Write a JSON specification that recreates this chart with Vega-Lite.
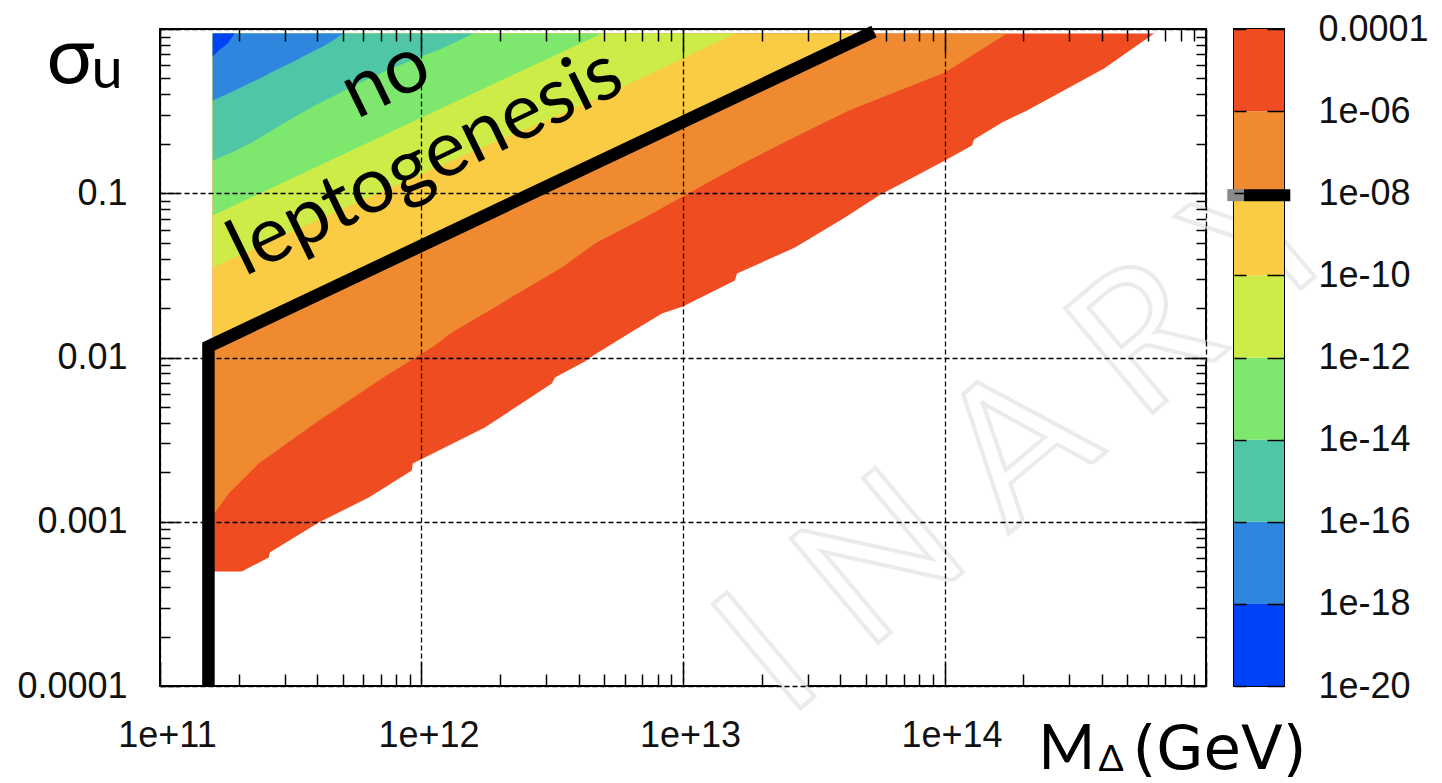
{
  "$schema": "https://vega.github.io/schema/vega-lite/v6.json",
  "background": "white",
  "padding": {"left": 15, "top": 5, "right": 0, "bottom": 0},
  "config": {
    "view": {"stroke": "#000000", "strokeWidth": 2},
    "axis": {
      "labelFont": "Liberation Sans", "labelFontSize": 36, "labelColor": "#111111",
      "titleFont": "Lato, Open Sans, sans-serif", "titleFontWeight": "normal", "titleColor": "#000000",
      "tickColor": "#000000", "tickWidth": 1.5, "domain": false,
      "labelFlush": false, "labelOverlap": false,
      "gridColor": "#000000", "gridDash": [5, 3], "gridWidth": 1.3
    }
  },
  "datasets": {
    "contour": [
      {"band": "b8", "m": 1.591e11, "s": 0.0004978}, {"band": "b8", "m": 2.054e11, "s": 0.0004978},
      {"band": "b8", "m": 2.605e11, "s": 0.0006058}, {"band": "b8", "m": 2.628e11, "s": 0.0006498},
      {"band": "b8", "m": 4.047e11, "s": 0.0009895}, {"band": "b8", "m": 6.287e11, "s": 0.001405},
      {"band": "b8", "m": 9.181e11, "s": 0.002051}, {"band": "b8", "m": 9.262e11, "s": 0.002263},
      {"band": "b8", "m": 1.747e12, "s": 0.003749}, {"band": "b8", "m": 3.151e12, "s": 0.006947},
      {"band": "b8", "m": 3.236e12, "s": 0.007556}, {"band": "b8", "m": 4.214e12, "s": 0.009455},
      {"band": "b8", "m": 4.603e12, "s": 0.01043}, {"band": "b8", "m": 6.211e12, "s": 0.014},
      {"band": "b8", "m": 8.306e12, "s": 0.01853}, {"band": "b8", "m": 9.991e12, "s": 0.02044},
      {"band": "b8", "m": 1.58e13, "s": 0.02943}, {"band": "b8", "m": 1.608e13, "s": 0.03246},
      {"band": "b8", "m": 2.68e13, "s": 0.04674}, {"band": "b8", "m": 4.163e13, "s": 0.07118},
      {"band": "b8", "m": 5.616e13, "s": 0.09689}, {"band": "b8", "m": 1.004e14, "s": 0.1582},
      {"band": "b8", "m": 1.274e14, "s": 0.1953}, {"band": "b8", "m": 1.297e14, "s": 0.2125},
      {"band": "b8", "m": 1.66e14, "s": 0.2696}, {"band": "b8", "m": 2.069e14, "s": 0.3191},
      {"band": "b8", "m": 4.076e14, "s": 0.5745}, {"band": "b8", "m": 6.331e14, "s": 0.9389},

      {"band": "b7", "m": 1.591e11, "s": 0.001092}, {"band": "b7", "m": 1.832e11, "s": 0.001486},
      {"band": "b7", "m": 2.386e11, "s": 0.002263}, {"band": "b7", "m": 3.907e11, "s": 0.003965},
      {"band": "b7", "m": 7.048e11, "s": 0.007451}, {"band": "b7", "m": 1.124e12, "s": 0.01183},
      {"band": "b7", "m": 1.306e12, "s": 0.0142}, {"band": "b7", "m": 3.441e12, "s": 0.03531},
      {"band": "b7", "m": 4.603e12, "s": 0.04943}, {"band": "b7", "m": 7.15e12, "s": 0.07118},
      {"band": "b7", "m": 9.991e12, "s": 0.09555}, {"band": "b7", "m": 1.636e13, "s": 0.1476},
      {"band": "b7", "m": 2.61e13, "s": 0.2154}, {"band": "b7", "m": 4.312e13, "s": 0.3191},
      {"band": "b7", "m": 1.004e14, "s": 0.5433}, {"band": "b7", "m": 1.734e14, "s": 0.9389},

      {"band": "b6", "m": 1.591e11, "s": 0.012}, {"band": "b6", "m": 5.178e13, "s": 0.9389},

      {"band": "b5", "m": 1.591e11, "s": 0.03531}, {"band": "b5", "m": 4.047e11, "s": 0.06921},
      {"band": "b5", "m": 1.504e12, "s": 0.1746}, {"band": "b5", "m": 4.895e12, "s": 0.3881},
      {"band": "b5", "m": 8.757e12, "s": 0.5995}, {"band": "b5", "m": 1.58e13, "s": 0.9389},

      {"band": "b4", "m": 1.591e11, "s": 0.0732}, {"band": "b4", "m": 8.785e11, "s": 0.2621},
      {"band": "b4", "m": 4.895e12, "s": 0.9389},

      {"band": "b3", "m": 1.591e11, "s": 0.1582}, {"band": "b3", "m": 1.881e11, "s": 0.1771},
      {"band": "b3", "m": 2.243e11, "s": 0.2037}, {"band": "b3", "m": 2.675e11, "s": 0.241},
      {"band": "b3", "m": 3.191e11, "s": 0.2851}, {"band": "b3", "m": 3.907e11, "s": 0.3421},
      {"band": "b3", "m": 4.827e11, "s": 0.4048}, {"band": "b3", "m": 6.069e11, "s": 0.4857},
      {"band": "b3", "m": 7.697e11, "s": 0.5745}, {"band": "b3", "m": 9.765e11, "s": 0.6705},
      {"band": "b3", "m": 1.196e12, "s": 0.7608}, {"band": "b3", "m": 1.585e12, "s": 0.9389},

      {"band": "b2", "m": 1.591e11, "s": 0.3671}, {"band": "b2", "m": 1.753e11, "s": 0.3936},
      {"band": "b2", "m": 1.931e11, "s": 0.4221}, {"band": "b2", "m": 2.185e11, "s": 0.4658},
      {"band": "b2", "m": 2.449e11, "s": 0.5066}, {"band": "b2", "m": 2.747e11, "s": 0.5587},
      {"band": "b2", "m": 3.191e11, "s": 0.6251}, {"band": "b2", "m": 3.706e11, "s": 0.7091},
      {"band": "b2", "m": 4.266e11, "s": 0.7932}, {"band": "b2", "m": 5.045e11, "s": 0.9389},

      {"band": "b1", "m": 1.591e11, "s": 0.68}, {"band": "b1", "m": 1.678e11, "s": 0.7397},
      {"band": "b1", "m": 1.815e11, "s": 0.8162}, {"band": "b1", "m": 1.931e11, "s": 0.9389}
    ],
    "edge": [
      {"i": 0, "m": 1.532e11, "s": 0.0001},
      {"i": 1, "m": 1.532e11, "s": 0.01167},
      {"i": 2, "m": 5.374e13, "s": 0.9656}
    ],
    "bar": [
      {"band": "b1", "lo": 1e-20, "hi": 1e-18},
      {"band": "b2", "lo": 1e-18, "hi": 1e-16},
      {"band": "b3", "lo": 1e-16, "hi": 1e-14},
      {"band": "b4", "lo": 1e-14, "hi": 1e-12},
      {"band": "b5", "lo": 1e-12, "hi": 1e-10},
      {"band": "b6", "lo": 1e-10, "hi": 1e-8},
      {"band": "b7", "lo": 1e-8, "hi": 1e-6},
      {"band": "b8", "lo": 1e-6, "hi": 1e-4}
    ]
  },
  "bounds": "flush",
  "spacing": 28,
  "hconcat": [
    {
      "width": 1046,
      "height": 657,
      "layer": [
        {
          "layer": [
            {
              "data": {"name": "contour"},
              "encoding": {
                "x": {
                  "field": "m", "type": "quantitative",
                  "scale": {"type": "log", "domain": [1e11, 1e15]},
                  "axis": {
                    "orient": "bottom",
                    "values": [1e11,2e11,3e11,4e11,5e11,6e11,7e11,8e11,9e11,1e12,2e12,3e12,4e12,5e12,6e12,7e12,8e12,9e12,1e13,2e13,3e13,4e13,5e13,6e13,7e13,8e13,9e13,1e14,2e14,3e14,4e14,5e14,6e14,7e14,8e14,9e14,1e15],
                    "labelExpr": "abs(log(datum.value)/LN10 - round(log(datum.value)/LN10)) < 0.001 && datum.value < 5e14 ? '1e+' + round(log(datum.value)/LN10) : ''",
                    "tickSize": {"condition": {"test": "abs(log(datum.value)/LN10 - round(log(datum.value)/LN10)) < 0.001", "value": -24}, "value": -12},
                    "grid": true,
                    "gridOpacity": {"condition": {"test": "abs(log(datum.value)/LN10 - round(log(datum.value)/LN10)) < 0.001", "value": 1}, "value": 0},
                    "labelPadding": 56,
                    "labelOffset": 7,
                    "title": "M",
                    "titleFontSize": 61,
                    "titleAlign": "left",
                    "titleBaseline": "alphabetic",
                    "titleX": 878,
                    "titleY": 82.5,
                    "zindex": 1
                  }
                },
                "y": {
                  "field": "s", "type": "quantitative",
                  "scale": {"type": "log", "domain": [0.0001, 1]},
                  "axis": {
                    "orient": "left",
                    "values": [0.0001,0.0002,0.0003,0.0004,0.0005,0.0006,0.0007,0.0008,0.0009,0.001,0.002,0.003,0.004,0.005,0.006,0.007,0.008,0.009,0.01,0.02,0.03,0.04,0.05,0.06,0.07,0.08,0.09,0.1,0.2,0.3,0.4,0.5,0.6,0.7,0.8,0.9,1],
                    "labelExpr": "abs(log(datum.value)/LN10 - round(log(datum.value)/LN10)) < 0.001 && datum.value < 0.5 ? format(datum.value, '~g') : ''",
                    "tickSize": {"condition": {"test": "abs(log(datum.value)/LN10 - round(log(datum.value)/LN10)) < 0.001", "value": -19}, "value": -10},
                    "grid": true,
                    "gridOpacity": {"condition": {"test": "abs(log(datum.value)/LN10 - round(log(datum.value)/LN10)) < 0.001", "value": 1}, "value": 0},
                    "labelPadding": 52,
                    "title": "σ",
                    "titleFontSize": 80,
                    "titleAngle": 0,
                    "titleAlign": "left",
                    "titleBaseline": "alphabetic",
                    "titleX": -114,
                    "titleY": 53.5,
                    "zindex": 1
                  }
                },
                "y2": {"datum": 0.9389},
                "color": {
                  "field": "band", "type": "nominal",
                  "scale": {"domain": ["b1","b2","b3","b4","b5","b6","b7","b8"], "range": ["#0042f5","#2e86de","#50c6a8","#7ee86e","#cdec48","#f9cc44","#f08a30","#f04c22"]},
                  "legend": null
                }
              },
              "layer": [
                {"transform": [{"filter": "datum.band == 'b8'"}], "mark": {"type": "area"}},
                {"transform": [{"filter": "datum.band == 'b7'"}], "mark": {"type": "area"}},
                {"transform": [{"filter": "datum.band == 'b6'"}], "mark": {"type": "area"}},
                {"transform": [{"filter": "datum.band == 'b5'"}], "mark": {"type": "area"}},
                {"transform": [{"filter": "datum.band == 'b4'"}], "mark": {"type": "area"}},
                {"transform": [{"filter": "datum.band == 'b3'"}], "mark": {"type": "area"}},
                {"transform": [{"filter": "datum.band == 'b2'"}], "mark": {"type": "area"}},
                {"transform": [{"filter": "datum.band == 'b1'"}], "mark": {"type": "area"}}
              ]
            },
            {
              "data": {"name": "edge"},
              "mark": {"type": "line", "color": "#000000", "strokeWidth": 12.5, "strokeJoin": "miter", "strokeCap": "butt"},
              "encoding": {
                "x": {"field": "m", "type": "quantitative", "scale": {"type": "log", "domain": [1e11, 1e15]}},
                "y": {"field": "s", "type": "quantitative", "scale": {"type": "log", "domain": [0.0001, 1]}},
                "order": {"field": "i", "type": "quantitative"}
              }
            },
            {
              "data": {"values": [
                {"m": 7.3e11, "s": 0.4927, "t": "no"},
                {"m": 1.039e12, "s": 0.1539, "t": "leptogenesis"}
              ]},
              "mark": {"type": "text", "font": "Lato, Open Sans, sans-serif", "fontSize": 78, "angle": -26, "align": "center", "baseline": "middle", "color": "#000000"},
              "encoding": {
                "x": {"field": "m", "type": "quantitative", "scale": {"type": "log", "domain": [1e11, 1e15]}},
                "y": {"field": "s", "type": "quantitative", "scale": {"type": "log", "domain": [0.0001, 1]}},
                "text": {"field": "t"}
              }
            },
            {
              "data": {"values": [{"m": 2.497e13, "s": 6.25e-5, "t": "I N A R Y"}]},
              "mark": {"type": "text", "font": "Lato, Open Sans, sans-serif", "fontSize": 190, "angle": -40, "align": "left", "baseline": "alphabetic", "fill": "#ffffff", "stroke": "#e3e3e3", "strokeWidth": 4, "strokeOpacity": 0.7},
              "encoding": {
                "x": {"field": "m", "type": "quantitative", "scale": {"type": "log", "domain": [1e11, 1e15]}},
                "y": {"field": "s", "type": "quantitative", "scale": {"type": "log", "domain": [0.0001, 1]}},
                "text": {"field": "t"}
              }
            }
          ]
        },
        {
          "data": {"values": [{"m": 1e11, "s": 0.0001}]},
          "mark": {"type": "point", "opacity": 0},
          "encoding": {
            "x": {
              "field": "m", "type": "quantitative",
              "scale": {"type": "log", "domain": [1e11, 1e15]},
              "axis": {
                "orient": "top",
                "values": [1e11,2e11,3e11,4e11,5e11,6e11,7e11,8e11,9e11,1e12,2e12,3e12,4e12,5e12,6e12,7e12,8e12,9e12,1e13,2e13,3e13,4e13,5e13,6e13,7e13,8e13,9e13,1e14,2e14,3e14,4e14,5e14,6e14,7e14,8e14,9e14,1e15],
                "labels": false,
                "grid": false,
                "tickSize": {"condition": {"test": "abs(log(datum.value)/LN10 - round(log(datum.value)/LN10)) < 0.001", "value": -24}, "value": -12},
                "title": "Δ",
                "titleFontSize": 37,
                "titleAlign": "left",
                "titleBaseline": "alphabetic",
                "titleX": 938,
                "titleY": 741.5,
                "zindex": 1
              }
            },
            "y": {
              "field": "s", "type": "quantitative",
              "scale": {"type": "log", "domain": [0.0001, 1]},
              "axis": {
                "orient": "right",
                "values": [0.0001,0.0002,0.0003,0.0004,0.0005,0.0006,0.0007,0.0008,0.0009,0.001,0.002,0.003,0.004,0.005,0.006,0.007,0.008,0.009,0.01,0.02,0.03,0.04,0.05,0.06,0.07,0.08,0.09,0.1,0.2,0.3,0.4,0.5,0.6,0.7,0.8,0.9,1],
                "labels": false,
                "grid": false,
                "tickSize": {"condition": {"test": "abs(log(datum.value)/LN10 - round(log(datum.value)/LN10)) < 0.001", "value": -19}, "value": -10},
                "title": "u",
                "titleFontSize": 56,
                "titleAngle": 0,
                "titleAlign": "left",
                "titleBaseline": "alphabetic",
                "titleX": -1115,
                "titleY": 58.5,
                "zindex": 1
              }
            }
          }
        }
      ],
      "resolve": {"axis": {"x": "independent", "y": "independent"}}
    },
    {
      "width": 50,
      "height": 657,
      "layer": [
        {
          "data": {"name": "bar"},
          "mark": {"type": "rect"},
          "encoding": {
            "x": {
              "datum": 0, "type": "quantitative",
              "scale": {"domain": [0, 1]},
              "axis": {
                "orient": "bottom", "labels": false, "ticks": false, "grid": false, "domain": false,
                "title": "(GeV)", "titleFont": "DejaVu Sans", "titleFontSize": 61, "titleAlign": "left", "titleBaseline": "alphabetic",
                "titleX": -102, "titleY": 82.3
              }
            },
            "x2": {"datum": 1},
            "y": {
              "field": "lo", "type": "quantitative",
              "scale": {"type": "log", "domain": [1e-20, 0.0001]},
              "axis": {
                "orient": "right",
                "values": [1e-20, 1e-18, 1e-16, 1e-14, 1e-12, 1e-10, 1e-8, 1e-6, 0.0001],
                "labelExpr": "datum.value > 5e-5 ? '0.0001' : '1e-' + (round(-log(datum.value)/LN10) < 10 ? '0' : '') + round(-log(datum.value)/LN10)",
                "tickSize": -17,
                "labelPadding": 51,
                "grid": false,
                "title": null,
                "zindex": 1
              }
            },
            "y2": {"field": "hi"},
            "color": {
              "field": "band", "type": "nominal",
              "scale": {"domain": ["b1","b2","b3","b4","b5","b6","b7","b8"], "range": ["#0042f5","#2e86de","#50c6a8","#7ee86e","#cdec48","#f9cc44","#f08a30","#f04c22"]},
              "legend": null
            }
          }
        },
        {
          "layer": [
            {
              "data": {"values": [{"x0": -0.134, "x1": 0.2, "v": 9e-9}]},
              "mark": {"type": "rule", "color": "#8a8a8a", "strokeWidth": 12},
              "encoding": {
                "x": {"field": "x0", "type": "quantitative", "scale": {"domain": [0, 1]}},
                "x2": {"field": "x1"},
                "y": {
                  "field": "v", "type": "quantitative",
                  "scale": {"type": "log", "domain": [1e-20, 0.0001]},
                  "axis": {
                    "orient": "left",
                    "values": [1e-20, 1e-18, 1e-16, 1e-14, 1e-12, 1e-10, 1e-8, 1e-6, 0.0001],
                    "labels": false,
                    "tickSize": -12,
                    "grid": false,
                    "title": null,
                    "zindex": 1
                  }
                }
              }
            },
            {
              "data": {"values": [{"x0": 0.2, "x1": 1.126, "v": 9e-9}]},
              "mark": {"type": "rule", "color": "#000000", "strokeWidth": 12},
              "encoding": {
                "x": {"field": "x0", "type": "quantitative", "scale": {"domain": [0, 1]}},
                "x2": {"field": "x1"},
                "y": {"field": "v", "type": "quantitative", "scale": {"type": "log", "domain": [1e-20, 0.0001]}}
              }
            }
          ]
        }
      ],
      "resolve": {"axis": {"y": "independent"}}
    }
  ]
}
